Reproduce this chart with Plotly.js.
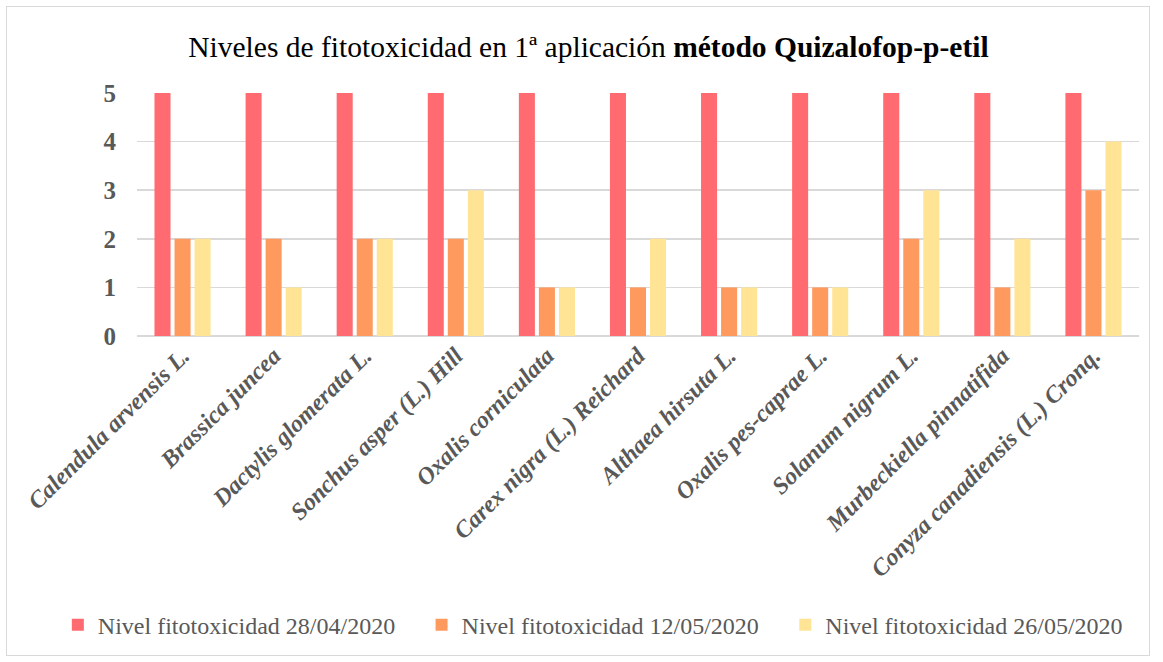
<!DOCTYPE html>
<html>
<head>
<meta charset="utf-8">
<script src="https://cdn.plot.ly/plotly-3.0.1.min.js"></script>
<style>
  html, body { margin: 0; padding: 0; background: #fff; }
  #wrap { position: relative; width: 1163px; height: 662px; }
  #chart { width: 1163px; height: 662px; }
  #frame { position: absolute; left: 6px; top: 6px; width: 1144px; height: 650px; border: 1.5px solid #d9d9d9; box-sizing: border-box; pointer-events: none; }
</style>
</head>
<body>
<div id="wrap">
  <div id="chart"></div>
  <div id="frame"></div>
</div>
<script>
const categories = [
  "Calendula arvensis L.",
  "Brassica juncea",
  "Dactylis glomerata L.",
  "Sonchus asper (L.) Hill",
  "Oxalis corniculata",
  "Carex nigra (L.) Reichard",
  "Althaea hirsuta L.",
  "Oxalis pes-caprae L.",
  "Solanum nigrum L.",
  "Murbeckiella pinnatifida",
  "Conyza canadiensis (L.) Cronq."
];
const seriesNames = [
  "Nivel fitotoxicidad 28/04/2020",
  "Nivel fitotoxicidad 12/05/2020",
  "Nivel fitotoxicidad 26/05/2020"
];
const nivel_28_04 = [5, 5, 5, 5, 5, 5, 5, 5, 5, 5, 5];
const nivel_12_05 = [2, 2, 2, 2, 1, 1, 1, 1, 2, 1, 3];
const nivel_26_05 = [2, 1, 2, 3, 1, 2, 1, 1, 3, 2, 4];
const yTicks = [0, 1, 2, 3, 4, 5];

const colors = ["#FF6B70", "#FF9A5E", "#FFE495"];
const values = [nivel_28_04, nivel_12_05, nivel_26_05];
const legendIds = ["legend", "legend2", "legend3"];
const legendX = [-0.079, 0.284, 0.647];
const SERIF = "Liberation Serif";

const data = values.map((v, i) => ({
  type: "bar",
  name: seriesNames[i],
  x: categories,
  y: v,
  legend: legendIds[i],
  marker: { color: colors[i] },
  hoverinfo: "x+y+name"
}));

const legendStyle = (x) => ({
  orientation: "h",
  x: x, xanchor: "left",
  y: -1.19, yanchor: "middle",
  font: { family: SERIF, size: 24, color: "#595959" },
  itemwidth: 30,
  bgcolor: "rgba(0,0,0,0)"
});

const layout = {
  width: 1163,
  height: 662,
  paper_bgcolor: "#ffffff",
  plot_bgcolor: "#ffffff",
  margin: { l: 137, r: 24, t: 93, b: 326 },
  barmode: "group",
  bargap: 0.34,
  bargroupgap: 0.2,
  title: {
    text: "Niveles de fitotoxicidad en 1ª aplicación <b>método Quizalofop-p-etil</b>",
    font: { family: SERIF, size: 29.5, color: "#000000" },
    x: 0.506, xref: "container", xanchor: "center",
    y: 0.93, yref: "container", yanchor: "middle"
  },
  xaxis: {
    type: "category",
    tickangle: -45,
    tickfont: { family: SERIF, size: 24, color: "#595959", weight: "bold", style: "italic" },
    ticks: "",
    showgrid: false,
    showline: false,
    automargin: false
  },
  yaxis: {
    range: [0, 5],
    tickvals: yTicks,
    ticktext: yTicks.map(String),
    tickfont: { family: SERIF, size: 25, color: "#595959", weight: "bold" },
    ticks: "",
    ticklabelstandoff: 20,
    showgrid: true,
    gridcolor: "#d9d9d9",
    gridwidth: 1.5,
    zeroline: true,
    zerolinecolor: "#d9d9d9",
    zerolinewidth: 1.5,
    showline: false,
    automargin: false
  },
  showlegend: true,
  legend: legendStyle(legendX[0]),
  legend2: legendStyle(legendX[1]),
  legend3: legendStyle(legendX[2])
};

Plotly.newPlot("chart", data, layout, { displayModeBar: false, staticPlot: true });
</script>
</body>
</html>
